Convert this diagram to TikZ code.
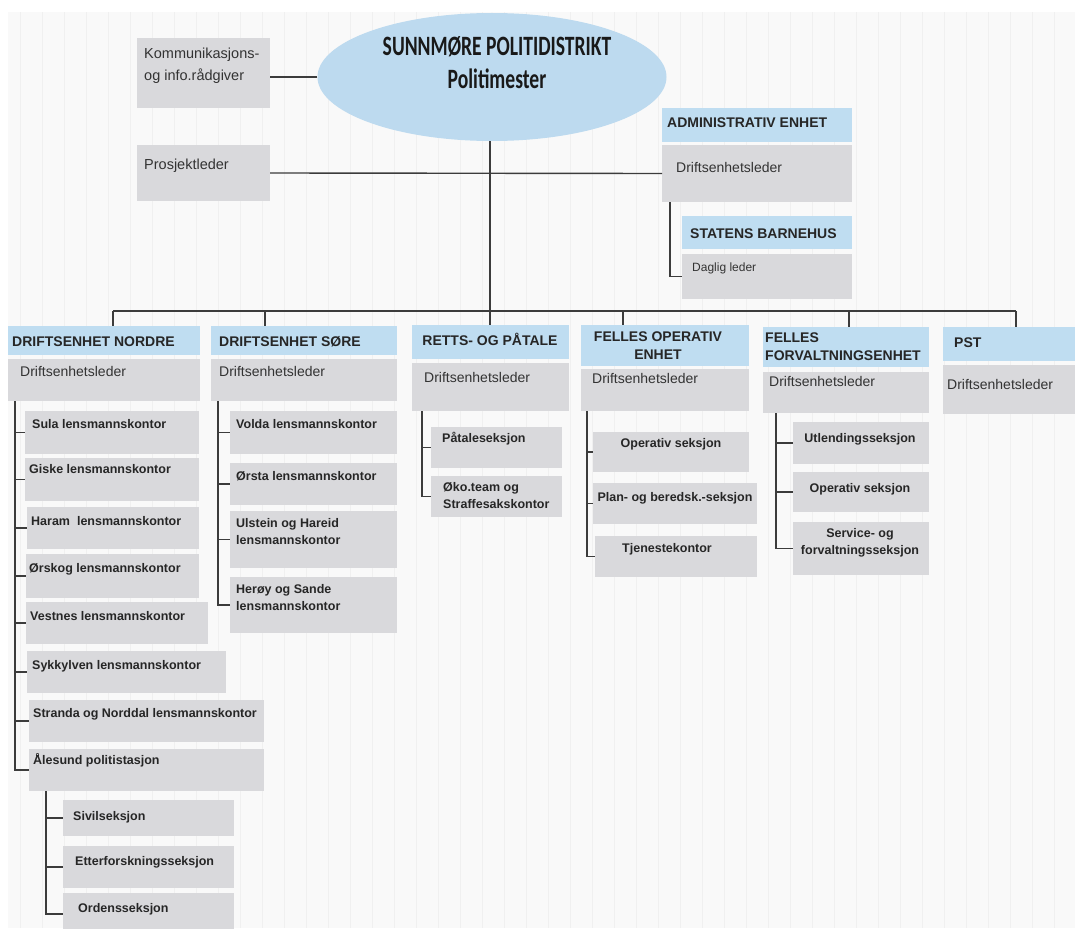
\documentclass[tikz,border=0pt]{standalone}
\usepackage{fontspec}
\setmainfont{Liberation Sans}
\newfontfamily\titlefont[FakeStretch=0.7]{Carlito}
\usetikzlibrary{shapes.geometric,fit}
\definecolor{boxgray}{HTML}{D9D9DC}
\definecolor{headblue}{HTML}{BFDDF1}
\definecolor{ellblue}{HTML}{BDDAEF}
\definecolor{linecol}{HTML}{3C3C3C}
\definecolor{bgcol}{HTML}{F9F9F9}
\definecolor{gridcol}{HTML}{F0F0F0}
\newcommand\mkbox[6]{\node[#1, fit={(#3,#4) (#5,#6)}] (#2) {};}
\begin{document}
\begin{tikzpicture}[x=1pt,y=-1pt,
  gbox/.style={fill=boxgray, draw=none, inner sep=0pt, outer sep=0pt},
  hbox/.style={fill=headblue, draw=none, inner sep=0pt, outer sep=0pt},
  conn/.style={draw=linecol, line width=1.4pt},
  reg/.style={font=\fontsize{14}{17}\selectfont, text=black!80, inner sep=0pt},
  big/.style={font=\fontsize{14.5}{22}\selectfont, text=black!80, inner sep=0pt, align=left},
  small/.style={font=\fontsize{12}{14}\selectfont, text=black!80, inner sep=0pt},
  sub/.style={font=\bfseries\fontsize{12.5}{17}\selectfont, text=black!85, inner sep=0pt},
  head/.style={font=\bfseries\fontsize{14}{18}\selectfont, text=black!85, inner sep=0pt},
  title/.style={font=\titlefont\bfseries\fontsize{28}{30}\selectfont, text=black!90, inner sep=0pt}]
\useasboundingbox (0,0) rectangle (1075,928);
% background
\fill[bgcol] (8,12) rectangle (1075,928);
\foreach \gx in {20,42,...,1070} {\draw[gridcol, line width=0.8pt] (\gx,12) -- (\gx,928);}

% top level
\node[ellipse, fill=ellblue, minimum width=349pt, minimum height=128pt, inner sep=0pt] (ell) at (492,77) {};
\node[title, anchor=base] (t-ell1) at (497,56) {SUNNMØRE POLITIDISTRIKT};
\node[title, anchor=base] (t-ell2) at (497,89) {Politimester};

\mkbox{gbox}{komm}{137}{38}{270}{108}
\node[big, anchor=north west] (t-komm) at (144,48) {Kommunikasjons-\\og info.rådgiver};
\mkbox{gbox}{prosj}{137}{145}{270}{201}
\node[big, anchor=base west] (t-prosj) at (144,170) {Prosjektleder};

\mkbox{hbox}{admh}{662}{108}{852}{142}
\node[head, anchor=base west] (t-admh) at (667,128) {ADMINISTRATIV ENHET};
\mkbox{gbox}{admg}{662}{145}{852}{202}
\node[reg, anchor=base west] (t-admg) at (676,173) {Driftsenhetsleder};

\mkbox{hbox}{sbh}{682}{216}{852}{249}
\node[head, anchor=base west] (t-sbh) at (690,238) {STATENS BARNEHUS};
\mkbox{gbox}{sbg}{682}{254}{852}{299}
\node[small, anchor=base west] (t-sbg) at (692,271) {Daglig leder};

\draw[conn] (ell.west) -- (ell.west -| komm.east);
\draw[conn] (prosj.east) -- (admg.west);
\draw[conn] ([xshift=8pt]admg.south west) |- (sbg.west);

% bus
\coordinate (b1) at (113,311);
\coordinate (b2) at (265,311);
\coordinate (b3) at (490,311);
\coordinate (b4) at (623,311);
\coordinate (b5) at (849,311);
\coordinate (b6) at (1016,311);
\draw[conn] (ell.south -| b3) -- (b3);
\draw[conn] (b1) -- (b6);

% unit headers and leaders
\mkbox{hbox}{nh}{8}{326}{200}{355}
\node[head, anchor=base west] (t-nh) at (12,346) {DRIFTSENHET NORDRE};
\mkbox{gbox}{ng}{8}{359}{200}{401}
\node[reg, anchor=base west] (t-ng) at (20,376) {Driftsenhetsleder};

\mkbox{hbox}{sh}{211}{326}{397}{355}
\node[head, anchor=base west] (t-sh) at (219,346) {DRIFTSENHET SØRE};
\mkbox{gbox}{sg}{211}{359}{397}{401}
\node[reg, anchor=base west] (t-sg) at (219,376) {Driftsenhetsleder};

\mkbox{hbox}{rh}{412}{325}{569}{359}
\node[head, anchor=base] (t-rh) at (490,345) {RETTS- OG PÅTALE};
\mkbox{gbox}{rg}{412}{363}{569}{411}
\node[reg, anchor=base west] (t-rg) at (424,382) {Driftsenhetsleder};

\mkbox{hbox}{oh}{581}{325}{749}{366}
\node[head, anchor=north, align=center] (t-oh) at (658,332) {FELLES OPERATIV\\ENHET};
\mkbox{gbox}{og}{581}{369}{749}{411}
\node[reg, anchor=base west] (t-og) at (592,383) {Driftsenhetsleder};

\mkbox{hbox}{fh}{763}{327}{929}{367}
\node[head, anchor=north west, align=left] (t-fh) at (765,333) {FELLES\\FORVALTNINGSENHET};
\mkbox{gbox}{fg}{763}{372}{929}{413}
\node[reg, anchor=base west] (t-fg) at (769,386) {Driftsenhetsleder};

\mkbox{hbox}{ph}{943}{327}{1075}{361}
\node[head, anchor=base west] (t-ph) at (954,347) {PST};
\mkbox{gbox}{pg}{943}{365}{1075}{414}
\node[reg, anchor=base west] (t-pg) at (947,389) {Driftsenhetsleder};

\draw[conn] (b1) -- (b1 |- nh.north);
\draw[conn] (b2) -- (b2 |- sh.north);
\draw[conn] (b3) -- (b3 |- rh.north);
\draw[conn] (b4) -- (b4 |- oh.north);
\draw[conn] (b5) -- (b5 |- fh.north);
\draw[conn] (b6) -- (b6 |- ph.north);

% Driftsenhet nordre
\mkbox{gbox}{n1}{25}{411}{199}{454}
\node[sub, anchor=base west] (t-n1) at (32,428) {Sula lensmannskontor};
\mkbox{gbox}{n2}{25}{458}{199}{501}
\node[sub, anchor=base west] (t-n2) at (29,473) {Giske lensmannskontor};
\mkbox{gbox}{n3}{27}{507}{199}{549}
\node[sub, anchor=base west] (t-n3) at (31,525) {Haram~ lensmannskontor};
\mkbox{gbox}{n4}{26}{554}{199}{598}
\node[sub, anchor=base west] (t-n4) at (29,572) {Ørskog lensmannskontor};
\mkbox{gbox}{n5}{26}{602}{208}{644}
\node[sub, anchor=base west] (t-n5) at (30,620) {Vestnes lensmannskontor};
\mkbox{gbox}{n6}{27}{651}{226}{693}
\node[sub, anchor=base west] (t-n6) at (32,669) {Sykkylven lensmannskontor};
\mkbox{gbox}{n7}{29}{700}{264}{742}
\node[sub, anchor=base west] (t-n7) at (33,717) {Stranda og Norddal lensmannskontor};
\mkbox{gbox}{n8}{29}{749}{264}{791}
\node[sub, anchor=base west] (t-n8) at (33,764) {Ålesund politistasjon};
\coordinate (nv) at ([xshift=7pt]ng.south west);
\draw[conn] (nv) |- (n8.west);
\foreach \b in {n1,n2,n3,n4,n5,n6,n7} {\draw[conn] (nv |- \b.west) -- (\b.west);}

\mkbox{gbox}{a1}{63}{800}{234}{836}
\node[sub, anchor=base west] (t-a1) at (73,820) {Sivilseksjon};
\mkbox{gbox}{a2}{63}{846}{234}{888}
\node[sub, anchor=base west] (t-a2) at (75,865) {Etterforskningsseksjon};
\mkbox{gbox}{a3}{63}{893}{234}{935}
\node[sub, anchor=base west] (t-a3) at (78,912) {Ordensseksjon};
\coordinate (av) at (46,791);
\draw[conn] (av |- n8.south) |- (a3.west);
\foreach \b in {a1,a2} {\draw[conn] (av |- \b.west) -- (\b.west);}

% Driftsenhet sore
\mkbox{gbox}{s1}{230}{411}{397}{454}
\node[sub, anchor=base west] (t-s1) at (236,428) {Volda lensmannskontor};
\mkbox{gbox}{s2}{230}{463}{397}{505}
\node[sub, anchor=base west] (t-s2) at (236,480) {Ørsta lensmannskontor};
\mkbox{gbox}{s3}{230}{511}{397}{568}
\node[sub, anchor=north west, align=left] (t-s3) at (236,518) {Ulstein og Hareid\\lensmannskontor};
\mkbox{gbox}{s4}{230}{577}{397}{633}
\node[sub, anchor=north west, align=left] (t-s4) at (236,584) {Herøy og Sande\\lensmannskontor};
\coordinate (sv) at ([xshift=7pt]sg.south west);
\draw[conn] (sv) |- (s4.west);
\foreach \b in {s1,s2,s3} {\draw[conn] (sv |- \b.west) -- (\b.west);}

% Retts- og patale
\mkbox{gbox}{r1}{431}{427}{562}{468}
\node[sub, anchor=base west] (t-r1) at (442,442) {Påtaleseksjon};
\mkbox{gbox}{r2}{431}{476}{562}{517}
\node[sub, anchor=north west, align=left] (t-r2) at (443,482) {Øko.team og\\Straffesakskontor};
\coordinate (rv) at ([xshift=10pt]rg.south west);
\draw[conn] (rv) |- (r2.west);
\draw[conn] (rv |- r1.west) -- (r1.west);

% Felles operativ enhet
\mkbox{gbox}{o1}{593}{432}{749}{472}
\node[sub, anchor=base] (t-o1) at (671,447) {Operativ seksjon};
\mkbox{gbox}{o2}{593}{483}{757}{524}
\node[sub, anchor=base] (t-o2) at (675,501) {Plan- og beredsk.-seksjon};
\mkbox{gbox}{o3}{595}{536}{757}{577}
\node[sub, anchor=base] (t-o3) at (667,552) {Tjenestekontor};
\coordinate (ov) at ([xshift=6pt]og.south west);
\draw[conn] (ov) |- (o3.west);
\foreach \b in {o1,o2} {\draw[conn] (ov |- \b.west) -- (\b.west);}

% Felles forvaltningsenhet
\mkbox{gbox}{f1}{793}{422}{929}{464}
\node[sub, anchor=base] (t-f1) at (860,442) {Utlendingsseksjon};
\mkbox{gbox}{f2}{793}{472}{929}{512}
\node[sub, anchor=base] (t-f2) at (860,492) {Operativ seksjon};
\mkbox{gbox}{f3}{793}{522}{929}{575}
\node[sub, anchor=north, align=center] (t-f3) at (860,528) {Service- og\\forvaltningsseksjon};
\coordinate (fv) at ([xshift=13pt]fg.south west);
\draw[conn] (fv) |- (f3.west);
\foreach \b in {f1,f2} {\draw[conn] (fv |- \b.west) -- (\b.west);}
\end{tikzpicture}
\end{document}
